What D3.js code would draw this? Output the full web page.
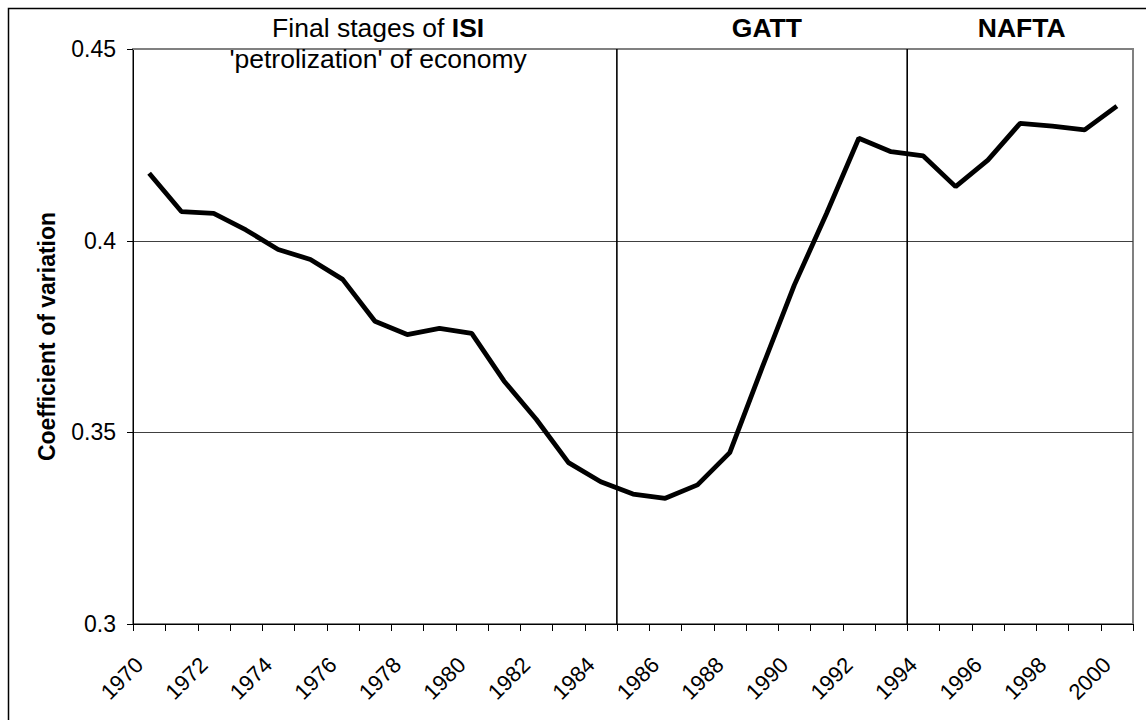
<html>
  <head>
    <style>
      body { margin: 0; background: #ffffff; }
      svg text { font-family: "Liberation Sans", Arial, sans-serif; fill: #000000; }
      .grid line { stroke: #404040; stroke-width: 1; shape-rendering: crispEdges; }
      .grid path { stroke-width: 0; }
      .axis path, .axis line { stroke: #000000; shape-rendering: crispEdges; }
    </style>
  </head>
  <body>
    <div class="post-content"></div>
    <script src="https://cdn.jsdelivr.net/npm/d3@7"></script>
    <script type="text/javascript">
      var years = [1970, 1971, 1972, 1973, 1974, 1975, 1976, 1977, 1978, 1979,
                   1980, 1981, 1982, 1983, 1984, 1985, 1986, 1987, 1988, 1989,
                   1990, 1991, 1992, 1993, 1994, 1995, 1996, 1997, 1998, 1999, 2000];
      var coefVar = [0.4176, 0.4076, 0.4071, 0.4028, 0.3977, 0.3951, 0.3899, 0.3790, 0.3755, 0.3771,
                     0.3758, 0.3634, 0.3534, 0.3421, 0.3371, 0.3339, 0.3328, 0.3363, 0.3447, 0.3668,
                     0.3884, 0.4071, 0.4267, 0.4232, 0.4221, 0.4141, 0.4210, 0.4306, 0.4299, 0.4289, 0.4351];
      var yTicks = [0.3, 0.35, 0.4, 0.45];
      var yTickLabels = ["0.3", "0.35", "0.4", "0.45"];
      var labelYears = [1970, 1972, 1974, 1976, 1978, 1980, 1982, 1984, 1986, 1988,
                        1990, 1992, 1994, 1996, 1998, 2000];
      var breakYears = [1985, 1994];
      var periods = [
        {lines: [["Final stages of ", "ISI"], ["'petrolization' of economy"]], center: 1977.1},
        {lines: [["", "GATT"]], center: 1989.15},
        {lines: [["", "NAFTA"]], center: 1997.05}
      ];

      function autorun() {
        var data = years.map(function(y, i) { return {year: y, value: coefVar[i]}; });

        var svg = d3.select(".post-content").append("svg")
          .attr("width", 1146)
          .attr("height", 720);

        var margin = {top: 49, right: 13, bottom: 96, left: 133},
          width = 1146 - margin.left - margin.right,
          height = 720 - margin.top - margin.bottom;

        // outer chart frame (runs off the right and bottom of the picture)
        svg.append("path")
          .attr("d", "M8.5,720V8.5H1146")
          .attr("fill", "none")
          .attr("stroke", "#000000")
          .attr("stroke-width", 1.5);

        var g = svg.append("g")
          .attr("transform", "translate(" + margin.left + "," + margin.top + ")");

        var x = d3.scaleLinear()
          .domain([years[0] - 0.5, years[years.length - 1] + 0.5])
          .range([0, width]);

        var y = d3.scaleLinear()
          .domain([0.3, 0.45])
          .range([height, 0]);

        // plot area border
        g.append("rect")
          .attr("width", width)
          .attr("height", height)
          .attr("fill", "none")
          .attr("stroke", "#808080")
          .attr("stroke-width", 2);

        // horizontal gridlines
        g.append("g")
          .attr("class", "grid")
          .call(d3.axisLeft(y)
            .tickValues([0.35, 0.4])
            .tickSize(-width)
            .tickFormat("")
          );

        // period break lines
        g.selectAll(".break")
          .data(breakYears)
          .enter().append("line")
          .attr("class", "break")
          .attr("x1", function(d) { return x(d - 0.5); })
          .attr("x2", function(d) { return x(d - 0.5); })
          .attr("y1", 0)
          .attr("y2", height)
          .attr("stroke", "#000000")
          .attr("stroke-width", 1.6);

        var valueline = d3.line()
          .x(function(d) { return x(d.year); })
          .y(function(d) { return y(d.value); });

        g.append("path")
          .data([data])
          .attr("fill", "none")
          .attr("stroke", "#000000")
          .attr("stroke-width", 4.8)
          .attr("stroke-linejoin", "bevel")
          .attr("d", valueline);

        // x axis: ticks between categories
        var xAxis = g.append("g")
          .attr("class", "axis")
          .attr("transform", "translate(0," + height + ")")
          .call(d3.axisBottom(x)
            .tickValues(years.map(function(d) { return d - 0.5; }).concat([years[years.length - 1] + 0.5]))
            .tickSize(7)
            .tickSizeOuter(0)
            .tickFormat("")
          );
        xAxis.select(".domain").attr("stroke-width", 1.5);

        g.selectAll(".xlabel")
          .data(labelYears)
          .enter().append("text")
          .attr("class", "xlabel")
          .attr("text-anchor", "end")
          .attr("dy", "0.35em")
          .attr("transform", function(d) { return "translate(" + (x(d) - 10) + "," + (height + 37) + ") rotate(-45)"; })
          .style("font-size", "22px")
          .text(function(d) { return d; });

        // y axis
        var yAxis = g.append("g")
          .attr("class", "axis")
          .call(d3.axisLeft(y)
            .tickValues(yTicks)
            .tickSize(6)
            .tickSizeOuter(0)
            .tickPadding(11)
            .tickFormat(function(d, i) { return yTickLabels[i]; })
          );
        yAxis.select(".domain").attr("stroke-width", 1.5);
        yAxis.selectAll("text")
          .style("font-size", "23px")
          .style("font-family", "'Liberation Sans', Arial, sans-serif")
          .attr("fill", "#000000");

        svg.append("text")
          .attr("transform", "translate(55," + (margin.top + height / 2) + ") rotate(-90)")
          .attr("text-anchor", "middle")
          .style("font-size", "23px")
          .style("font-weight", "bold")
          .text("Coefficient of variation");

        // period annotations above the plot
        periods.forEach(function(p) {
          p.lines.forEach(function(parts, i) {
            var t = svg.append("text")
              .attr("x", margin.left + x(p.center))
              .attr("y", 37 + i * 31)
              .attr("text-anchor", "middle")
              .style("font-size", "26.5px");
            t.append("tspan").text(parts[0]);
            if (parts.length > 1) {
              t.append("tspan").style("font-weight", "bold").text(parts[1]);
            }
          });
        });
      }
      if (window.addEventListener) window.addEventListener("load", autorun, false);
      else window.onload = autorun;
    </script>
  </body>
</html>
